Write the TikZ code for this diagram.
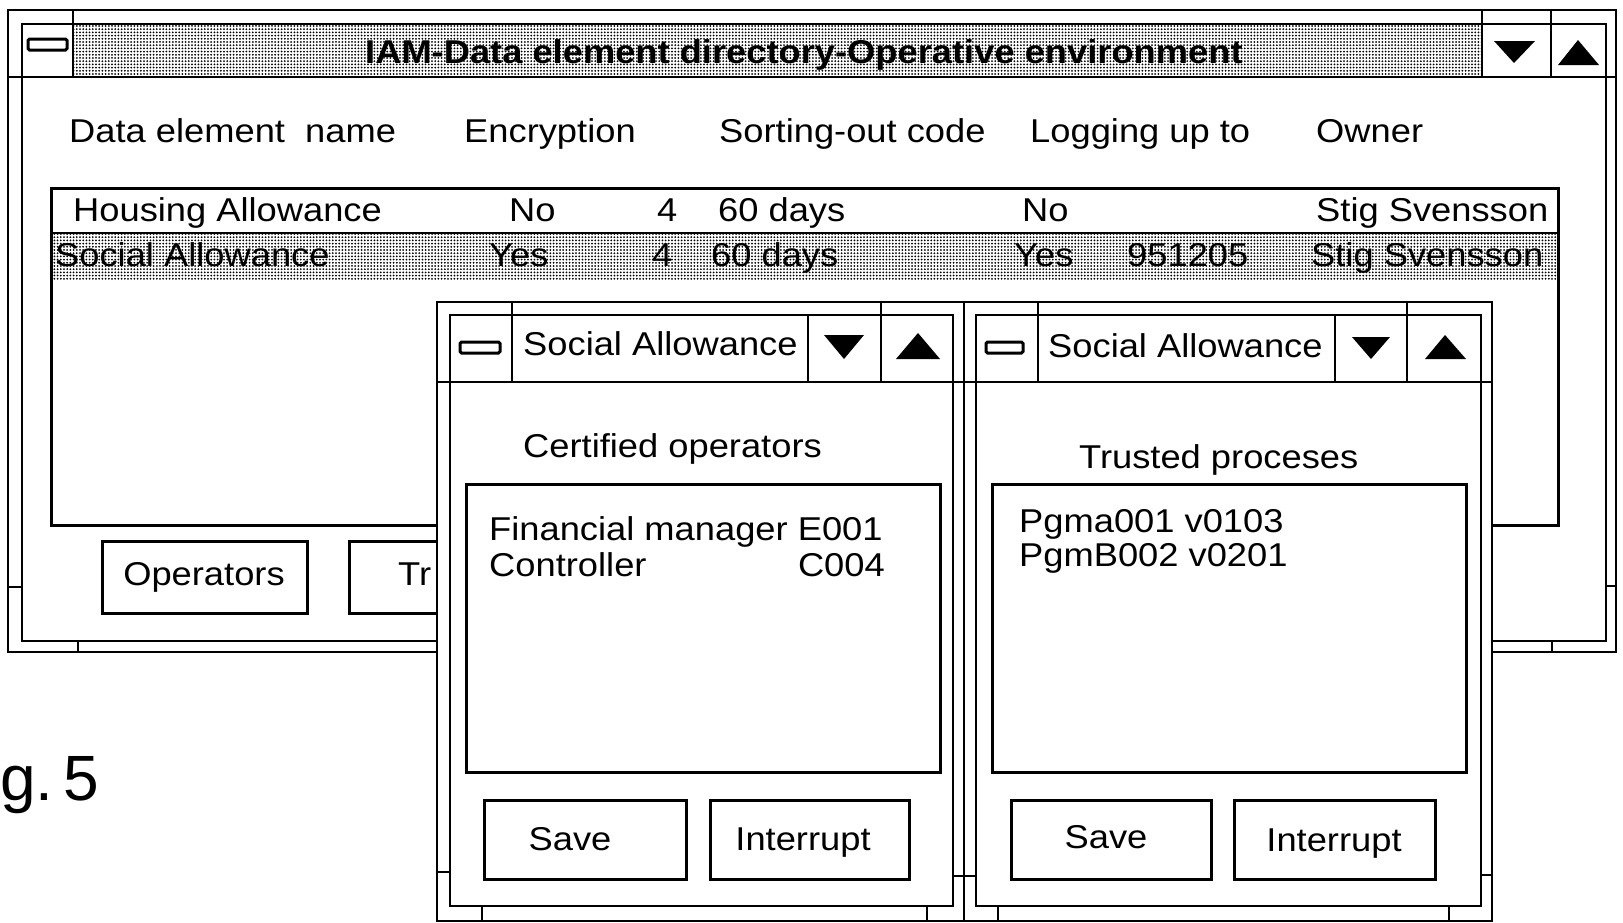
\documentclass[tikz,border=0pt]{standalone}
\usepackage{fontspec}
\setmainfont{Liberation Sans}[FakeStretch=1.1]
\newfontfamily\figfont{Liberation Sans}
\usetikzlibrary{patterns.meta}

\begin{document}
\begin{tikzpicture}[x=1pt,y=-1pt,
  winframe/.style={line width=2.8pt},
  box/.style={line width=3pt},
  dotfill/.style={pattern={Dots[distance=3.2pt,radius=1pt]}},
  lbl/.style={anchor=base west,inner sep=0pt,font=\fontsize{33}{38}\selectfont},
  lble/.style={lbl,anchor=base east},
  lblc/.style={lbl,anchor=base},
  tri/.style={fill=black,draw=none},
  icon/.style={line width=3pt,rounded corners=1.5pt}
]
\useasboundingbox (0,0) rectangle (1623,922);

% ---------- main window: data element directory ----------
\fill[dotfill] (73,24) rectangle (1482,77);
\draw[winframe] (8,10) rectangle (1616,652);
\draw[winframe] (22,24) rectangle (1606,641);
\draw[winframe] (8,77) -- (1616,77);
\draw[winframe] (73,10) -- (73,77) (1482,10) -- (1482,77) (1551,10) -- (1551,77);
\draw[winframe] (8,587) -- (22,587) (1606,586) -- (1616,586)
                (78,641) -- (78,652) (1552,641) -- (1552,652);
\draw[icon] (28,39) rectangle (67,50);
\fill[tri] (1494,41) -- (1535,41) -- (1514,63) -- cycle;
\fill[tri] (1558,65) -- (1599,65) -- (1578,40) -- cycle;
\node[lbl,font=\bfseries\fontsize{33}{38}\selectfont] (title) at (365,63)
  {IAM-Data element directory-Operative environment};

% column headings
\node[lbl] (hName)  at (69,142)   {Data element\ \ name};
\node[lbl] (hEnc)   at (464,142)  {Encryption};
\node[lbl] (hSort)  at (719,142)  {Sorting-out code};
\node[lbl] (hLog)   at (1030,142) {Logging up to};
\node[lbl] (hOwner) at (1316,142) {Owner};

% list of data elements, second row selected
\fill[dotfill] (51,233) rectangle (1558,280);
\draw[box] (51,188) rectangle (1558,525);
\draw[winframe] (51,233) -- (1558,233);

\node[lbl]  (r1name)  at (73,221)   {Housing Allowance};
\node[lbl]  (r1enc)   at (509,221)  {No};
\node[lbl]  (r1sort)  at (657,221)  {4};
\node[lbl]  (r1days)  at (718,221)  {60 days};
\node[lbl]  (r1log)   at (1022,221) {No};
\node[lbl]  (r1owner) at (1316,221) {Stig Svensson};

\node[lbl]  (r2name)  at (55,266)   {Social Allowance};
\node[lbl]  (r2enc)   at (489,266)  {Yes};
\node[lbl]  (r2sort)  at (652,266)  {4};
\node[lbl]  (r2days)  at (711,266)  {60 days};
\node[lbl]  (r2log)   at (1014,266) {Yes};
\node[lbl]  (r2date)  at (1127,266) {951205};
\node[lbl]  (r2owner) at (1311,266) {Stig Svensson};

% buttons of the main window
\draw[box] (102,541) rectangle (307,613);
\node[lblc] (bOper) at (204,585) {Operators};
\draw[box] (349,541) rectangle (470,613);
\node[lbl]  (bTr) at (398,585) {Tr};

% ---------- child window: certified operators ----------
\fill[white] (437,302) rectangle (964,921);
\draw[winframe] (437,302) rectangle (964,921);
\draw[winframe] (450,315) rectangle (953,906);
\draw[winframe] (437,382) -- (964,382);
\draw[winframe] (512,302) -- (512,382) (881,302) -- (881,382) (808,315) -- (808,382);
\draw[winframe] (437,872) -- (450,872) (953,876) -- (964,876)
                (482,906) -- (482,921) (927,906) -- (927,921);
\draw[icon] (460,342) rectangle (500,353);
\fill[tri] (824,335) -- (864,335) -- (844,359) -- cycle;
\fill[tri] (896,359) -- (940,359) -- (918,333) -- cycle;
\node[lbl] (c1title) at (523,355) {Social Allowance};
\node[lbl] (c1head)  at (523,457) {Certified operators};
\draw[box] (466,484) rectangle (940,772);
\node[lbl]  (op1) at (489,540) {Financial manager E001};
\node[lbl]  (op2) at (489,576) {Controller};
\node[lble] (op2code) at (885,576) {C004};
\draw[box] (484,800) rectangle (686,879);
\draw[box] (710,800) rectangle (909,879);
\node[lblc] (c1save) at (570,850) {Save};
\node[lblc] (c1int)  at (803,850) {Interrupt};

% ---------- child window: trusted processes ----------
\fill[white] (964,302) rectangle (1492,921);
\draw[winframe] (964,302) rectangle (1492,921);
\draw[winframe] (976,315) rectangle (1481,906);
\draw[winframe] (964,382) -- (1492,382);
\draw[winframe] (1038,302) -- (1038,382) (1407,302) -- (1407,382) (1335,315) -- (1335,382);
\draw[winframe] (964,876) -- (976,876) (1481,875) -- (1492,875)
                (998,906) -- (998,921) (1449,906) -- (1449,921);
\draw[icon] (986,342) rectangle (1023,353);
\fill[tri] (1352,337) -- (1390,337) -- (1371,359) -- cycle;
\fill[tri] (1425,359) -- (1466,359) -- (1445,335) -- cycle;
\node[lbl] (c2title) at (1048,357) {Social Allowance};
\node[lbl] (c2head)  at (1079,468) {Trusted proceses};
\draw[box] (992,484) rectangle (1466,772);
\node[lbl] (pg1) at (1019,532) {Pgma001 v0103};
\node[lbl] (pg2) at (1019,566) {PgmB002 v0201};
\draw[box] (1011,800) rectangle (1211,879);
\draw[box] (1234,800) rectangle (1435,879);
\node[lblc] (c2save) at (1106,848) {Save};
\node[lblc] (c2int)  at (1334,851) {Interrupt};

% figure label
\node[anchor=base west,inner sep=0pt,font=\figfont\fontsize{64}{70}\selectfont] (fig) at (0,800) {g.\kern10pt 5};
\end{tikzpicture}
\end{document}
